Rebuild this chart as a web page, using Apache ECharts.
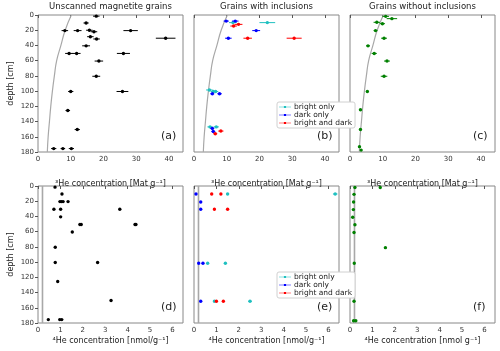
<!DOCTYPE html>
<html>
<head>
<meta charset="utf-8">
<script src="https://cdn.jsdelivr.net/npm/echarts@6/dist/echarts.min.js"></script>
<style>
html, body { margin: 0; padding: 0; background: #fff; }
#chart { width: 500px; height: 351px; }
</style>
</head>
<body>
<div id="chart"></div>
<script>
// [value, depth, error]
var aUnscanned3He = [
    [17.8, 1.5, 1.0], [14.7, 10.5, 0.8], [8.2, 20.5, 1.0], [12.1, 20.5, 1.2], [15.7, 20, 1.0],
    [17.1, 22, 1.0], [28.3, 20.5, 2.2], [39.0, 30.5, 3.0], [16.0, 28.5, 1.0], [17.9, 31.5, 1.0],
    [14.7, 40.5, 1.2], [9.5, 50.5, 1.2], [11.8, 50.5, 1.2], [26.1, 50.5, 2.0], [18.6, 60.5, 1.3],
    [17.8, 80.5, 1.2], [10.0, 100.5, 0.8], [25.8, 100.5, 1.8], [9.1, 125.5, 0.7], [12.0, 150.5, 0.8],
    [4.8, 175.5, 0.8], [7.6, 175.5, 0.7], [10.2, 175.5, 0.8]
];
var bBright3He = [[11.9, 10, 1.2], [22.4, 10, 2.4], [4.7, 98.5, 1.0], [5.9, 100.5, 0.8], [6.6, 100.5, 0.8], [4.9, 147, 0.8], [6.8, 147, 0.8]];
var bDark3He = [[9.85, 8, 0.8], [12.6, 8, 1.0], [19.0, 20.5, 1.2], [10.5, 30.5, 1.0], [5.6, 103.5, 0.6], [7.8, 103.5, 0.7], [5.6, 149, 0.6], [5.9, 153, 0.6]];
var bBoth3He = [[13.6, 12.3, 1.2], [12.1, 14.5, 1.0], [16.4, 30.5, 1.3], [30.6, 30.5, 2.3], [8.2, 152.5, 0.8], [6.5, 156, 0.6]];
var cNoIncl3He = [
    [10.9, 1.8, 1.0], [12.8, 4.8, 1.6], [8.2, 9.6, 1.0], [9.9, 11.4, 0.8], [7.8, 20.5, 0.6],
    [10.4, 30.5, 0.9], [5.5, 40.5, 0.6], [7.4, 50.5, 0.8], [11.3, 60.5, 0.9], [10.4, 80.5, 1.0],
    [5.3, 100.5, 0.4], [3.2, 124.5, 0.3], [3.2, 150.5, 0.3], [2.9, 173, 0.3], [3.4, 177.5, 0.3]
];
var dUnscanned4He = [
    [0.76, 1.5, 0.03], [1.07, 10.5, 0.03], [0.98, 20.5, 0.03], [1.05, 20.5, 0.03], [1.12, 20.5, 0.03],
    [1.34, 20.5, 0.03], [0.71, 30.5, 0.03], [1.01, 30.5, 0.03], [3.65, 30.5, 0.03], [1.01, 40.5, 0.03],
    [1.87, 50.5, 0.03], [1.93, 50.5, 0.03], [4.33, 50.5, 0.03], [4.37, 50.5, 0.03], [1.53, 60.5, 0.03],
    [0.77, 80.5, 0.03], [0.77, 100.5, 0.03], [2.66, 100.5, 0.03], [0.88, 125.5, 0.03], [3.26, 150.5, 0.03],
    [0.46, 175.5, 0.03], [0.97, 175.5, 0.03], [1.06, 175.5, 0.03]
];
var eBright4He = [[1.5, 10.5, 0.05], [6.3, 10.5, 0.1], [0.61, 101.5, 0.03], [1.4, 101.5, 0.04], [0.91, 151.5, 0.04], [2.5, 151.5, 0.08]];
var eDark4He = [[0.09, 10.5, 0.02], [0.3, 21, 0.02], [0.3, 30.5, 0.02], [0.21, 101.5, 0.02], [0.4, 101.5, 0.02], [0.3, 151.5, 0.02]];
var eBoth4He = [[0.79, 10.5, 0.03], [1.2, 10.5, 0.03], [0.91, 30.5, 0.03], [1.5, 30.5, 0.03], [1.0, 151.5, 0.03], [1.31, 151.5, 0.03]];
var fNoIncl4He = [
    [0.22, 2, 0.02], [1.35, 2, 0.03], [0.18, 11, 0.02], [0.16, 21, 0.02], [0.15, 31, 0.02],
    [0.12, 41, 0.02], [0.22, 51, 0.02], [0.18, 61, 0.02], [1.58, 81, 0.03], [0.19, 101.5, 0.02],
    [0.06, 125, 0.02], [0.18, 151.5, 0.02], [0.16, 177, 0.02], [0.26, 177, 0.02]
];
// grey reference curve (3He) and line (4He)
var curve3He = [[10.2, 0], [8.3, 20], [7.0, 40], [5.7, 60], [5.0, 80], [4.4, 100], [3.9, 120], [3.5, 140], [3.1, 160], [2.85, 180]];
var line4He = [[0.2, 0], [0.2, 180]];

var he3Ticks = [0, 10, 20, 30, 40];
var he4Ticks = [0, 1, 2, 3, 4, 5, 6];
var titles = ['Unscanned magnetite grains', 'Grains with inclusions', 'Grains without inclusions'];
var letters = ['(a)', '(b)', '(c)', '(d)', '(e)', '(f)'];
var he3Name = '³He concentration [Mat g⁻¹]';
var he4Names = ['⁴He concentration [nmol/g⁻¹]', '⁴He concentration [nmol/g⁻¹]', '⁴He concentration [nmol g⁻¹]'];

var COL = { black: '#000000', cyan: '#1fc0c0', blue: '#0000ff', red: '#ff0000', green: '#008000' };
var lefts = [38, 194, 350];
var tops = [15, 186];

function errRender(params, api) {
    var x = api.value(0), y = api.value(1), e = api.value(2);
    var p0 = api.coord([x - e, y]);
    var p1 = api.coord([x + e, y]);
    var c = api.coord([x, y]);
    var color = api.visual('color');
    return {
        type: 'group',
        children: [
            { type: 'line', shape: { x1: p0[0], y1: p0[1], x2: p1[0], y2: p1[1] }, style: { stroke: color, lineWidth: 1 } },
            { type: 'circle', shape: { cx: c[0], cy: c[1], r: 1.7 }, style: { fill: color } }
        ]
    };
}

var grids = [], xAxes = [], yAxes = [], series = [], graphics = [];
for (var r = 0; r < 2; r++) {
    for (var c = 0; c < 3; c++) {
        var i = r * 3 + c;
        grids.push({ left: lefts[c], top: tops[r], width: 145, height: 137, show: true, borderColor: '#888', borderWidth: 1 });
        xAxes.push({
            gridIndex: i, type: 'value', min: 0, max: r === 0 ? 44.3 : 6.47,
            name: r === 0 ? he3Name : he4Names[c], nameLocation: 'middle', nameGap: r === 0 ? 28 : 14,
            nameTextStyle: { fontSize: 8, color: '#222' },
            axisLine: { show: false }, splitLine: { show: false },
            axisTick: { customValues: r === 0 ? he3Ticks : he4Ticks, length: 3, lineStyle: { color: '#555' } },
            axisLabel: { customValues: r === 0 ? he3Ticks : he4Ticks, fontSize: 7, margin: 4, color: '#333' }
        });
        yAxes.push({
            gridIndex: i, type: 'value', inverse: true, min: 0, max: 180, interval: 20,
            name: c === 0 ? 'depth [cm]' : '', nameLocation: 'middle', nameGap: 23,
            nameTextStyle: { fontSize: 8, color: '#222' },
            axisLine: { show: false }, splitLine: { show: false },
            axisTick: { show: c === 0, length: 3, lineStyle: { color: '#555' } },
            axisLabel: { show: c === 0, fontSize: 7, margin: 4, color: '#333' }
        });
        series.push({
            type: 'line', xAxisIndex: i, yAxisIndex: i, data: r === 0 ? curve3He : line4He,
            smooth: r === 0, showSymbol: false, silent: true, z: 1,
            lineStyle: { color: '#a8a8a8', width: r === 0 ? 1.2 : 1.6 }
        });
        graphics.push({
            type: 'text', left: lefts[c] + 145 - 22, top: tops[r] + 116,
            style: { text: letters[i], fill: '#222', font: '11px "DejaVu Sans"' }
        });
    }
}
titles.forEach(function (t, c) {
    graphics.push({
        type: 'text', x: lefts[c] + 72.5, y: 7,
        style: { text: t, fill: '#222', font: '8.5px "DejaVu Sans"', textAlign: 'center', textVerticalAlign: 'middle' }
    });
});

function errSeries(name, data, idx, color) {
    return {
        name: name, type: 'custom', xAxisIndex: idx, yAxisIndex: idx, data: data,
        renderItem: errRender, encode: { x: 0, y: 1 }, itemStyle: { color: color }, z: 3
    };
}
series.push(errSeries('unscanned', aUnscanned3He, 0, COL.black));
series.push(errSeries('bright only', bBright3He, 1, COL.cyan));
series.push(errSeries('dark only', bDark3He, 1, COL.blue));
series.push(errSeries('bright and dark', bBoth3He, 1, COL.red));
series.push(errSeries('no inclusions', cNoIncl3He, 2, COL.green));
series.push(errSeries('unscanned', dUnscanned4He, 3, COL.black));
series.push(errSeries('bright only', eBright4He, 4, COL.cyan));
series.push(errSeries('dark only', eDark4He, 4, COL.blue));
series.push(errSeries('bright and dark', eBoth4He, 4, COL.red));
series.push(errSeries('no inclusions', fNoIncl4He, 5, COL.green));

var legendIcon = 'path://M0,4L9,4L9,2.5L13,2.5L13,4L22,4L22,5L13,5L13,6.5L9,6.5L9,5L0,5Z';
function legendAt(top) {
    return {
        data: ['bright only', 'dark only', 'bright and dark'], orient: 'vertical',
        left: 277, top: top, icon: legendIcon, itemWidth: 12, itemHeight: 5, itemGap: 0,
        padding: [1, 3, 1, 2], borderColor: '#d0d0d0', borderWidth: 1, borderRadius: 2,
        backgroundColor: '#fff', selectedMode: false,
        textStyle: { fontSize: 7.5, lineHeight: 7, color: '#222', padding: [0, 0, 0, -2] }
    };
}

var myChart = echarts.init(document.getElementById('chart'), null, { renderer: 'canvas' });
myChart.setOption({
    animation: false,
    textStyle: { fontFamily: 'DejaVu Sans' },
    grid: grids,
    xAxis: xAxes,
    yAxis: yAxes,
    legend: [legendAt(102), legendAt(272)],
    graphic: graphics,
    series: series
});
</script>
</body>
</html>
